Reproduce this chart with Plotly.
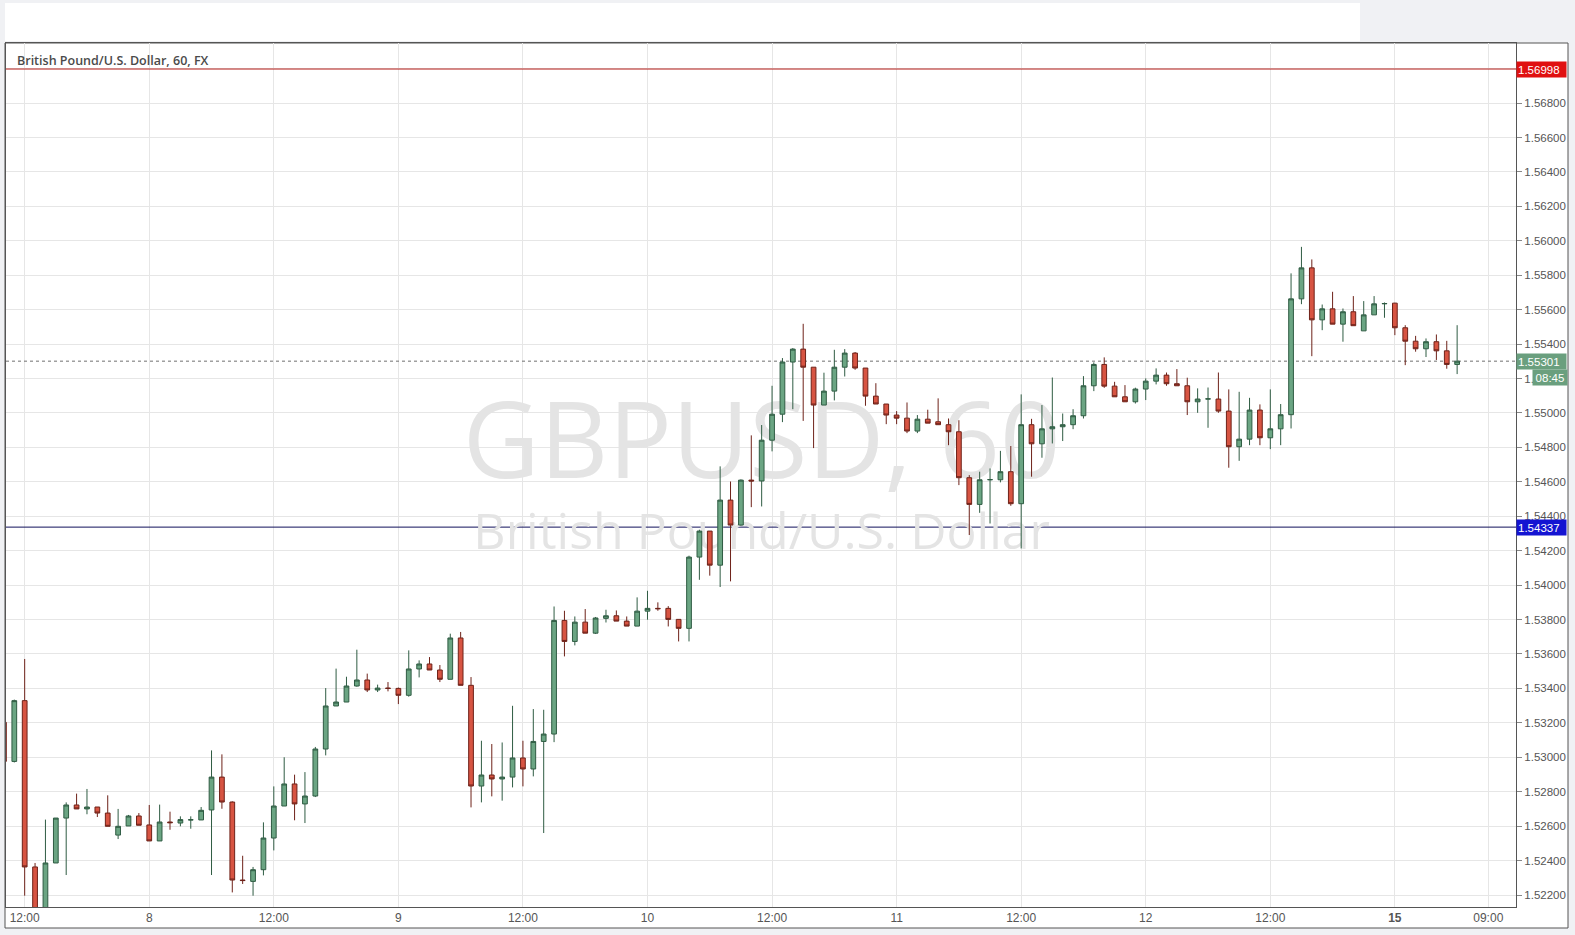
import plotly.graph_objects as go

# ---- data: GBPUSD hourly candles (index 0 = day 7 11:00) ----
x_index = list(range(-1, 140))
opens = [1.53203, 1.52976, 1.53329, 1.52363, 1.52120, 1.52386, 1.52647, 1.52723, 1.52700, 1.52711,
         1.52676, 1.52548, 1.52601, 1.52659, 1.52607, 1.52514, 1.52624, 1.52618, 1.52636, 1.52636,
         1.52694, 1.52885, 1.52740, 1.52287, 1.52279, 1.52347, 1.52531, 1.52717, 1.52845, 1.52729,
         1.52775, 1.53048, 1.53298, 1.53321, 1.53414, 1.53449, 1.53391, 1.53402, 1.53400, 1.53360,
         1.53513, 1.53542, 1.53507, 1.53453, 1.53693, 1.53418, 1.52833, 1.52897, 1.52874, 1.52885,
         1.52996, 1.52932, 1.53092, 1.53135, 1.53795, 1.53673, 1.53785, 1.53721, 1.53807, 1.53822,
         1.53791, 1.53762, 1.53849, 1.53865, 1.53865, 1.53801, 1.53749, 1.54163, 1.54314, 1.54116,
         1.54494, 1.54349, 1.54610, 1.54605, 1.54842, 1.54993, 1.55296, 1.55371, 1.55266, 1.55046,
         1.55127, 1.55266, 1.55348, 1.55261, 1.55098, 1.55052, 1.54988, 1.54970, 1.54895, 1.54964,
         1.54949, 1.54932, 1.54891, 1.54624, 1.54469, 1.54612, 1.54612, 1.54659, 1.54473, 1.54932,
         1.54821, 1.54908, 1.54920, 1.54932, 1.54984, 1.55158, 1.55282, 1.55156, 1.55094, 1.55065,
         1.55139, 1.55185, 1.55220, 1.55170, 1.55158, 1.55065, 1.55081, 1.55081, 1.55011, 1.54804,
         1.54848, 1.55017, 1.54856, 1.54908, 1.54990, 1.55663, 1.55843, 1.55541, 1.55605, 1.55516,
         1.55588, 1.55477, 1.55570, 1.55634, 1.55638, 1.55495, 1.55417, 1.55373, 1.55414, 1.55361,
         1.55282]
highs = [1.53220, 1.53335, 1.53571, 1.52386, 1.52638, 1.52647, 1.52738, 1.52789, 1.52816, 1.52711,
         1.52779, 1.52700, 1.52665, 1.52676, 1.52723, 1.52725, 1.52684, 1.52657, 1.52657, 1.52711,
         1.53040, 1.53017, 1.52744, 1.52428, 1.52363, 1.52622, 1.52831, 1.53000, 1.52899, 1.52914,
         1.53060, 1.53402, 1.53515, 1.53468, 1.53625, 1.53486, 1.53422, 1.53437, 1.53405, 1.53621,
         1.53563, 1.53582, 1.53536, 1.53718, 1.53728, 1.53466, 1.53096, 1.53077, 1.53086, 1.53299,
         1.53096, 1.53280, 1.53276, 1.53876, 1.53851, 1.53818, 1.53861, 1.53815, 1.53857, 1.53853,
         1.53818, 1.53929, 1.53967, 1.53900, 1.53878, 1.53801, 1.54171, 1.54322, 1.54314, 1.54690,
         1.54602, 1.54614, 1.54870, 1.54930, 1.55158, 1.55319, 1.55377, 1.55518, 1.55266, 1.55234,
         1.55367, 1.55371, 1.55354, 1.55261, 1.55173, 1.55052, 1.55011, 1.55061, 1.54988, 1.55019,
         1.55085, 1.54968, 1.54958, 1.54639, 1.54659, 1.54678, 1.54780, 1.54808, 1.55108, 1.54966,
         1.55046, 1.55206, 1.54997, 1.55022, 1.55214, 1.55294, 1.55323, 1.55181, 1.55162, 1.55147,
         1.55201, 1.55259, 1.55235, 1.55255, 1.55205, 1.55143, 1.55148, 1.55235, 1.55137, 1.55123,
         1.55088, 1.55050, 1.55137, 1.55052, 1.55811, 1.55965, 1.55892, 1.55630, 1.55704, 1.55607,
         1.55679, 1.55650, 1.55679, 1.55642, 1.55640, 1.55510, 1.55448, 1.55433, 1.55456, 1.55419,
         1.55510]
lows = [1.52960, 1.52970, 1.52196, 1.52100, 1.52100, 1.52386, 1.52316, 1.52700, 1.52669, 1.52653,
        1.52599, 1.52525, 1.52601, 1.52605, 1.52514, 1.52514, 1.52579, 1.52599, 1.52585, 1.52636,
        1.52316, 1.52701, 1.52215, 1.52264, 1.52196, 1.52314, 1.52459, 1.52717, 1.52634, 1.52618,
        1.52769, 1.53011, 1.53298, 1.53321, 1.53410, 1.53379, 1.53379, 1.53383, 1.53309, 1.53352,
        1.53464, 1.53507, 1.53437, 1.53453, 1.53418, 1.52709, 1.52738, 1.52773, 1.52748, 1.52825,
        1.52831, 1.52889, 1.52560, 1.53088, 1.53586, 1.53650, 1.53721, 1.53716, 1.53783, 1.53791,
        1.53762, 1.53762, 1.53799, 1.53851, 1.53760, 1.53673, 1.53673, 1.54031, 1.54055, 1.53989,
        1.54022, 1.54345, 1.54453, 1.54457, 1.54777, 1.54947, 1.55022, 1.54954, 1.54796, 1.55046,
        1.55073, 1.55212, 1.55251, 1.55042, 1.55052, 1.54935, 1.54935, 1.54883, 1.54883, 1.54941,
        1.54932, 1.54813, 1.54581, 1.54291, 1.54420, 1.54358, 1.54597, 1.54461, 1.54213, 1.54630,
        1.54740, 1.54823, 1.54837, 1.54906, 1.54968, 1.55127, 1.55146, 1.55094, 1.55065, 1.55055,
        1.55075, 1.55166, 1.55158, 1.55158, 1.54988, 1.55001, 1.54914, 1.55001, 1.54682, 1.54722,
        1.54813, 1.54813, 1.54790, 1.54813, 1.54910, 1.55632, 1.55330, 1.55481, 1.55516, 1.55414,
        1.55507, 1.55477, 1.55570, 1.55553, 1.55452, 1.55278, 1.55356, 1.55325, 1.55308, 1.55257,
        1.55226]
closes = [1.52976, 1.53329, 1.52363, 1.52120, 1.52386, 1.52647, 1.52723, 1.52700, 1.52711, 1.52676,
          1.52599, 1.52599, 1.52659, 1.52605, 1.52514, 1.52624, 1.52620, 1.52638, 1.52637, 1.52692,
          1.52885, 1.52740, 1.52287, 1.52284, 1.52347, 1.52531, 1.52717, 1.52845, 1.52729, 1.52775,
          1.53048, 1.53298, 1.53321, 1.53414, 1.53449, 1.53391, 1.53402, 1.53400, 1.53360, 1.53513,
          1.53542, 1.53507, 1.53453, 1.53693, 1.53418, 1.52833, 1.52897, 1.52874, 1.52885, 1.52996,
          1.52932, 1.53092, 1.53135, 1.53795, 1.53673, 1.53785, 1.53721, 1.53809, 1.53822, 1.53791,
          1.53762, 1.53849, 1.53865, 1.53863, 1.53801, 1.53749, 1.54163, 1.54314, 1.54116, 1.54494,
          1.54349, 1.54610, 1.54605, 1.54842, 1.54993, 1.55296, 1.55371, 1.55266, 1.55046, 1.55127,
          1.55266, 1.55348, 1.55261, 1.55098, 1.55052, 1.54988, 1.54970, 1.54895, 1.54964, 1.54941,
          1.54932, 1.54891, 1.54624, 1.54469, 1.54612, 1.54613, 1.54659, 1.54473, 1.54932, 1.54821,
          1.54908, 1.54920, 1.54932, 1.54984, 1.55158, 1.55282, 1.55156, 1.55094, 1.55065, 1.55139,
          1.55185, 1.55220, 1.55170, 1.55158, 1.55065, 1.55081, 1.55082, 1.55011, 1.54804, 1.54848,
          1.55017, 1.54856, 1.54908, 1.54990, 1.55663, 1.55843, 1.55541, 1.55605, 1.55516, 1.55588,
          1.55507, 1.55570, 1.55634, 1.55636, 1.55495, 1.55417, 1.55373, 1.55414, 1.55361, 1.55282,
          1.55301]

tick_positions = [1, 13, 25, 37, 49, 61, 73, 85, 97, 109, 121, 133, 142]
tick_labels = ["12:00", "8", "12:00", "9", "12:00", "10", "12:00", "11", "12:00", "12", "12:00", "<b>15</b>", "09:00"]

resistance_level = 1.56998
support_level = 1.54337
last_price = closes[-1]
countdown_text = "08:45"

title_text = "British Pound/U.S. Dollar, 60, FX"
watermark_symbol = "GBPUSD, 60"
watermark_name = "British Pound/U.S. Dollar"

# ---- layout geometry ----
W, H = 1575, 935
ML, MR, MT, MB = 6, 59, 43, 28
PW, PH = W - ML - MR, H - MT - MB
x_range = [-0.80, 144.67]
y_range = [1.521303, 1.571492]


def px_x(p):
    return (p - ML) / PW


def px_y(p):
    return (H - MB - p) / PH


fig = go.Figure()

# watermark on the base axes (drawn beneath candles on the overlay axes)
fig.add_trace(go.Scatter(
    x=[72.0, 72.0], y=[1.54777, 1.54283], mode="text",
    text=[watermark_symbol, watermark_name],
    textfont=dict(family="Open Sans", size=[106, 50], color="rgb(228,228,228)"),
    hoverinfo="skip", showlegend=False, xaxis="x", yaxis="y"))

fig.add_trace(go.Candlestick(
    x=x_index, open=opens, high=highs, low=lows, close=closes,
    xaxis="x2", yaxis="y2",
    increasing=dict(fillcolor="#6ba583", line=dict(color="#2f5c43", width=1)),
    decreasing=dict(fillcolor="#d75442", line=dict(color="#6e2219", width=1)),
    whiskerwidth=0, showlegend=False, hoverinfo="skip"))

grid_c = "#e6e6e6"
axis_font = dict(family="Liberation Sans Narrow, Arial Narrow, Liberation Sans, Arial", size=12, color="#555555")

fig.update_layout(
    width=W, height=H,
    margin=dict(l=ML, r=MR, t=MT, b=MB),
    paper_bgcolor="#f0f1f4", plot_bgcolor="#ffffff",
    boxgap=0.35,
    xaxis=dict(range=x_range, tickmode="array", tickvals=tick_positions, ticktext=tick_labels,
               showgrid=True, gridcolor=grid_c, gridwidth=1, zeroline=False,
               showline=True, mirror=True, linecolor="#555555", linewidth=1,
               ticks="", tickfont=axis_font, ticklabelstandoff=0,
               rangeslider=dict(visible=False), fixedrange=True),
    yaxis=dict(range=y_range, side="right", tick0=1.522, dtick=0.002, tickformat=".5f",
               showgrid=True, gridcolor=grid_c, gridwidth=1, zeroline=False,
               showline=True, mirror=True, linecolor="#555555", linewidth=1,
               ticks="outside", ticklen=5, tickcolor="#888888",
               tickfont=dict(family="Liberation Sans, Arial", size=11.5, color="#555555"),
               fixedrange=True),
    xaxis2=dict(range=x_range, overlaying="x", visible=False, rangeslider=dict(visible=False),
                fixedrange=True),
    yaxis2=dict(range=y_range, overlaying="y", visible=False, fixedrange=True),
)

# page decoration: white top strip and white chart frame
fig.add_shape(type="rect", xref="paper", yref="paper", layer="below",
              x0=px_x(5), x1=px_x(1360), y0=px_y(41), y1=px_y(3),
              fillcolor="#ffffff", line=dict(width=0))
fig.add_shape(type="rect", xref="paper", yref="paper", layer="below",
              x0=px_x(5), x1=px_x(1568), y0=px_y(928), y1=px_y(43),
              fillcolor="#ffffff", line=dict(color="#555555", width=1))

# horizontal level lines (on the base axes, beneath the candles)
for lvl, lc, dash in [(resistance_level, "#b51e1a", "solid"),
                      (support_level, "#10105a", "solid"),
                      (last_price, "#6f6f6f", "dot")]:
    fig.add_shape(type="line", xref="x", yref="y", layer="between",
                  x0=x_range[0], x1=x_range[1], y0=lvl, y1=lvl,
                  line=dict(color=lc, width=1, dash=dash))

label_font = dict(family="Liberation Sans, Arial", size=11.5, color="#ffffff")
for val, col in [(resistance_level, "#e01010"), (last_price, "#6a9f7e"), (support_level, "#1414d2")]:
    fig.add_annotation(xref="paper", yref="y", x=1.0, y=val, xanchor="left", yanchor="middle",
                       text=f"{val:.5f}", showarrow=False, bgcolor=col, width=47, height=13,
                       borderpad=1, align="left", font=label_font)
fig.add_annotation(xref="paper", yref="y", x=px_x(1532), y=last_price, xanchor="left", yanchor="middle",
                   yshift=-16.5, text=countdown_text, showarrow=False, bgcolor="#6a9f7e",
                   width=32, height=13, borderpad=1, align="center", font=label_font)

fig.add_annotation(xref="paper", yref="paper", x=px_x(15), y=px_y(60), xanchor="left", yanchor="middle",
                   text=title_text, showarrow=False,
                   font=dict(family="Open Sans", size=12.5, color="#4a4a4a", weight=600))

fig.write_html("out.html", config={"displayModeBar": False},
               post_script="document.body.style.margin='0';document.body.style.padding='0';"
                           "document.body.style.background='#f0f1f4';")
